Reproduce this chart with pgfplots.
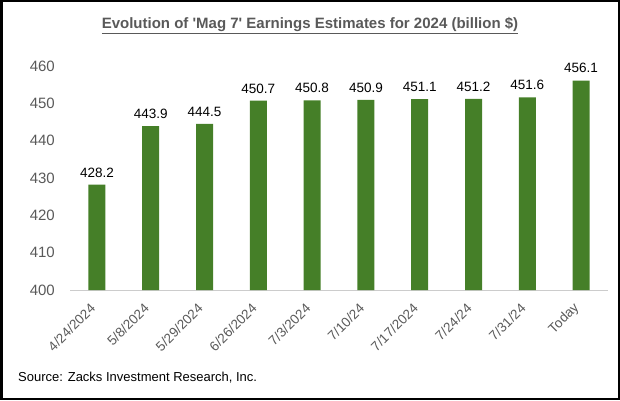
\documentclass[border=0pt]{standalone}
\usepackage{pgfplots}
\pgfplotsset{compat=1.18}
\usepackage{fontspec}
\setmainfont{Liberation Sans}
\definecolor{bargreen}{HTML}{457F28}
\definecolor{txtgray}{HTML}{595959}
\begin{document}
\begin{tikzpicture}[x=1pt,y=1pt]
\path[use as bounding box] (0,0) rectangle (620,400);
\draw[line width=2.5pt] (1.25,1.25) rectangle (618.75,398.75);
\node[anchor=base,text=txtgray,font=\fontsize{15}{17}\selectfont\bfseries] at (310,371.7) {\underline{Evolution of \textquotesingle Mag 7\textquotesingle{} Earnings Estimates for 2024 (billion \$)}};
\node[anchor=base west,inner sep=0pt,font=\fontsize{13}{15}\selectfont] at (18,18.3) {Source: Zacks Investment Research, Inc.};
\begin{axis}[
  at={(70pt,110pt)}, anchor=south west,
  scale only axis, width=538pt, height=224pt,
  ymin=400, ymax=460,
  xmin=-0.5, xmax=9.5,
  ytick={400,410,...,460},
  xtick=data,
  xticklabels={4/24/2024,5/8/2024,5/29/2024,6/26/2024,7/3/2024,7/10/24,7/17/2024,7/24/24,7/31/24,Today},
  xticklabel style={xshift=-4pt, rotate=45, anchor=east, font=\fontsize{13.5}{15}\selectfont, text=txtgray, inner sep=0pt},
  xticklabel shift=16pt,
  yticklabel style={font=\fontsize{15}{17}\selectfont, text=txtgray, inner sep=0pt},
  yticklabel shift=15pt,
  /pgf/number format/assume math mode=true,
  axis lines*=left,
  y axis line style={draw=none},
  x axis line style={draw=black!20, line width=0.8pt, -},
  major tick length=0pt,
  ybar, bar width=17pt,
  nodes near coords={\pgfmathprintnumber[fixed,fixed zerofill,precision=1]{\pgfplotspointmeta}},
  nodes near coords style={font=\fontsize{13.5}{15}\selectfont, text=black, yshift=4pt},
]
\addplot[fill=bargreen, draw=none] coordinates {
(0,428.2) (1,443.9) (2,444.5) (3,450.7) (4,450.8) (5,450.9) (6,451.1) (7,451.2) (8,451.6) (9,456.1)
};
\end{axis}
\end{tikzpicture}
\end{document}
